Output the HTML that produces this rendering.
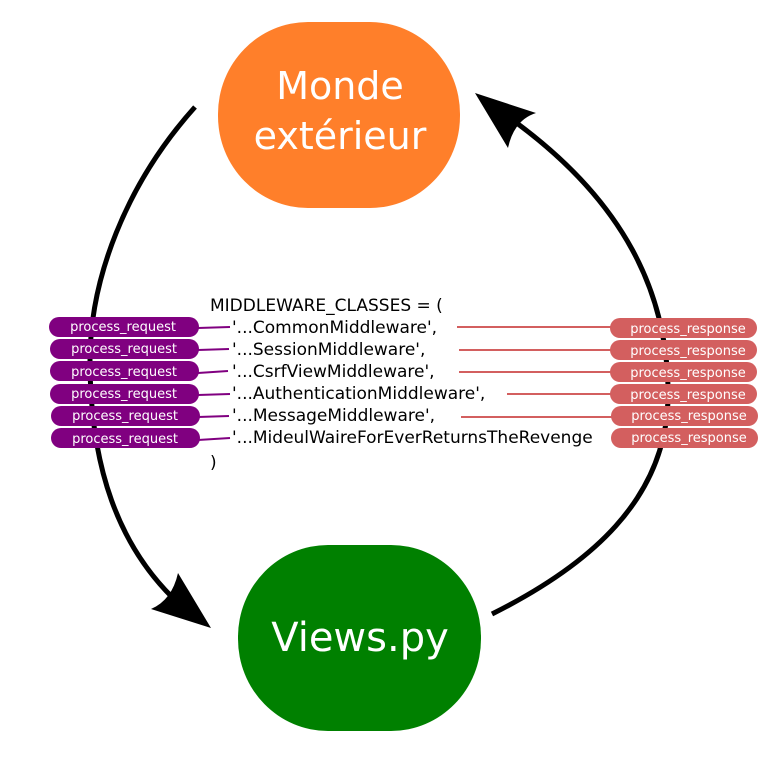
<!DOCTYPE html>
<html><head><meta charset="utf-8"><style>
html,body{margin:0;padding:0;background:#fff;}
svg{display:block;}
text{font-family:"DejaVu Sans","Liberation Sans",sans-serif;}
</style></head><body>
<svg width="781" height="757" viewBox="0 0 781 757" xmlns="http://www.w3.org/2000/svg">
<rect width="781" height="757" fill="#fff"/>
<!-- nodes -->
<rect x="218" y="22" width="242" height="186" rx="90" ry="92" fill="#ff7f2a"/>
<text x="340" y="99" font-size="38" fill="#fff" text-anchor="middle">Monde</text>
<text x="340" y="149" font-size="38" fill="#fff" text-anchor="middle">extérieur</text>
<rect x="238" y="545" width="243" height="186" rx="90" ry="92" fill="#008000"/>
<text x="360" y="651" font-size="40" fill="#fff" text-anchor="middle">Views.py</text>
<!-- curves -->
<path d="M195,107 C125,185 90,280 90,360 C90,470 120,545 172,597" fill="none" stroke="#000" stroke-width="5"/>
<path d="M211,628 L151,609 Q172,600 178,573 Z" fill="#000"/>
<path d="M492,614 C590,565 665,500 668,400 C670,290 620,200 518,124" fill="none" stroke="#000" stroke-width="5"/>
<path d="M475,93 L536,113 Q514,120 508,148 Z" fill="#000"/>
<!-- code text -->
<g font-size="17" fill="#000">
<text x="210" y="311">MIDDLEWARE_CLASSES = (</text>
<text x="232" y="333">'...CommonMiddleware',</text>
<text x="232" y="355">'...SessionMiddleware',</text>
<text x="232" y="377">'...CsrfViewMiddleware',</text>
<text x="232" y="399">'...AuthenticationMiddleware',</text>
<text x="232" y="421">'...MessageMiddleware',</text>
<text x="232" y="443">'...MideulWaireForEverReturnsTheRevenge</text>
<text x="210" y="468">)</text>
</g>
<!-- purple connectors -->
<g stroke="#800080" stroke-width="2" fill="none">
<path d="M198,328 L230,327"/>
<path d="M198,350 L229,349"/>
<path d="M198,373 L228,371"/>
<path d="M198,395 L230,394"/>
<path d="M198,417 L229,416"/>
<path d="M198,440 L230,438"/>
</g>
<!-- red connectors -->
<g stroke="#d35f5f" stroke-width="2" fill="none">
<path d="M457,327 L612,327"/>
<path d="M459,350 L612,350"/>
<path d="M459,372 L612,372"/>
<path d="M507,394 L612,394"/>
<path d="M461,417 L612,417"/>
</g>
<!-- left pills -->
<g fill="#800080">
<rect x="49" y="317" width="150" height="20" rx="10"/>
<rect x="50" y="339" width="149" height="20" rx="10"/>
<rect x="50" y="361" width="149" height="20" rx="10"/>
<rect x="50" y="384" width="149" height="20" rx="10"/>
<rect x="51" y="406" width="149" height="20" rx="10"/>
<rect x="51" y="428" width="149" height="20" rx="10"/>
</g>
<g font-size="13" fill="#fff" text-anchor="middle">
<text x="123" y="331">process_request</text>
<text x="124" y="353">process_request</text>
<text x="124" y="376">process_request</text>
<text x="124" y="398">process_request</text>
<text x="125" y="420">process_request</text>
<text x="125" y="443">process_request</text>
</g>
<!-- right pills -->
<g fill="#d35f5f">
<rect x="610" y="318" width="147" height="20" rx="10"/>
<rect x="610" y="340" width="147" height="20" rx="10"/>
<rect x="610" y="362" width="147" height="20" rx="10"/>
<rect x="610" y="384" width="147" height="20" rx="10"/>
<rect x="611" y="406" width="147" height="20" rx="10"/>
<rect x="611" y="428" width="147" height="20" rx="10"/>
</g>
<g font-size="13" fill="#fff" text-anchor="middle">
<text x="688" y="333">process_response</text>
<text x="688" y="355">process_response</text>
<text x="688" y="377">process_response</text>
<text x="688" y="399">process_response</text>
<text x="689" y="420">process_response</text>
<text x="689" y="442">process_response</text>
</g>
</svg>
</body></html>
